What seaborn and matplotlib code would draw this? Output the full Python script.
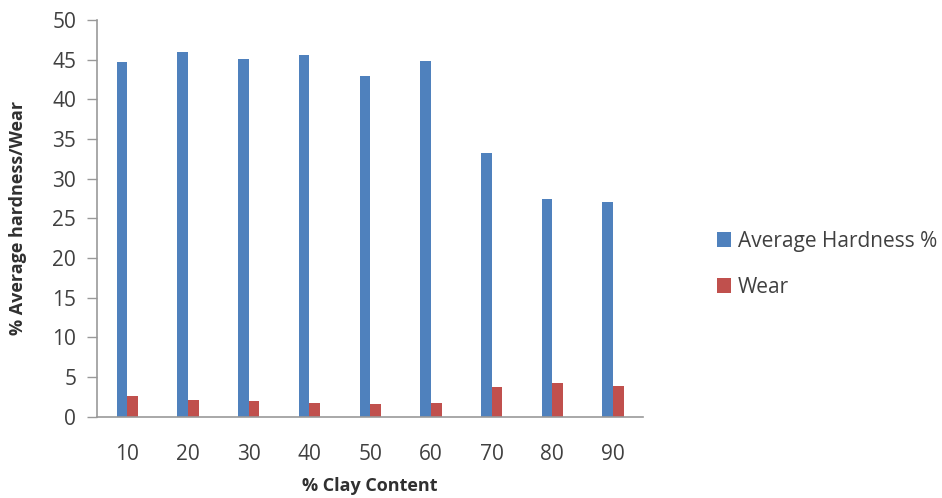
import numpy as np
import matplotlib
matplotlib.use("Agg")
import matplotlib.pyplot as plt
import pandas as pd
import seaborn as sns

clay = [10, 20, 30, 40, 50, 60, 70, 80, 90]
hardness = [44.7, 46.0, 45.1, 45.6, 42.9, 44.8, 33.2, 27.4, 27.0]
wear = [2.6, 2.15, 2.0, 1.8, 1.65, 1.8, 3.8, 4.25, 3.9]
series = ["Average Hardness %", "Wear"]
colors = ["#4F81BD", "#C0504D"]

df = pd.DataFrame({
    "clay": clay * 2,
    "value": hardness + wear,
    "series": [series[0]] * len(clay) + [series[1]] * len(clay),
})

sns.set_style("white")
plt.rcParams['font.family'] = ['Open Sans', 'DejaVu Sans']

fig = plt.figure(figsize=(9.42, 4.98), dpi=100)
ax = fig.add_axes([0.103, 0.163, 0.58, 0.797])

sns.barplot(data=df, x="clay", y="value", hue="series", palette=colors,
            width=0.35, ax=ax, saturation=1, edgecolor="none", legend=True)

ax.set_ylim(0, 50)
ax.set_yticks(range(0, 51, 5))
ax.set_xlim(-0.5, len(clay) - 0.5)
ax.tick_params(axis="both", labelsize=15, colors="#404040")
ax.tick_params(axis="y", which="major", left=True, length=7, width=1, color="#999999", pad=8)
ax.tick_params(axis="x", bottom=False, pad=16)
for s in ["top", "right"]:
    ax.spines[s].set_visible(False)
for s in ["left", "bottom"]:
    ax.spines[s].set_color("#999999")
    ax.spines[s].set_linewidth(1.2)

ax.set_xlabel("% Clay Content", fontsize=13, fontweight="bold", color="#303030", labelpad=9)
ax.set_ylabel("% Average hardness/Wear", fontsize=13, fontweight="bold", color="#303030", labelpad=18)

handles, labels = ax.get_legend_handles_labels()
ax.legend(handles, labels, loc="center left", bbox_to_anchor=(1.1, 0.385), frameon=False,
          fontsize=15, handlelength=0.7, handleheight=0.7, handletextpad=0.3,
          labelspacing=1.2, labelcolor="#404040")

fig.savefig("out.png", dpi=100)
